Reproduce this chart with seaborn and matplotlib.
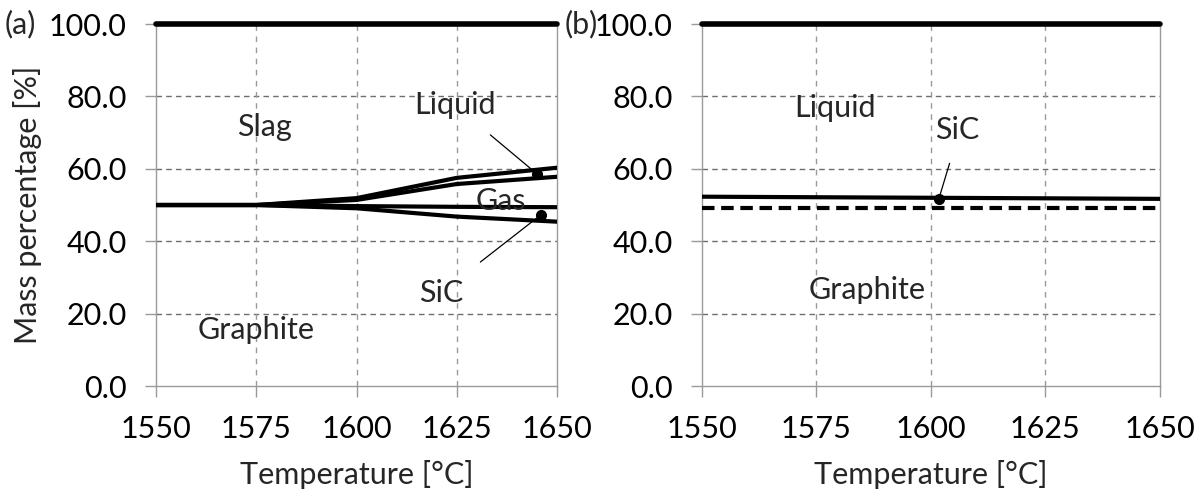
import matplotlib
matplotlib.use("Agg")
import matplotlib.pyplot as plt
import seaborn as sns
import pandas as pd
from matplotlib.ticker import FormatStrFormatter

# Phase boundaries, mass percentage [%] vs temperature [°C]
temp_a = [1550, 1575, 1600, 1625, 1650]
slag_liquid = [50.0, 50.0, 51.9, 57.5, 60.3]
liquid_gas = [50.0, 50.0, 51.4, 55.8, 57.8]
gas_sic = [50.0, 50.0, 49.7, 49.5, 49.4]
sic_graphite_a = [50.0, 50.0, 49.1, 46.8, 45.4]
top_a = [100.0, 100.0, 100.0, 100.0, 100.0]

temp_b = [1550, 1600, 1650]
liquid_sic = [52.3, 52.0, 51.7]
sic_graphite_b = [49.2, 49.2, 49.2]
top_b = [100.0, 100.0, 100.0]

x_ticks = [1550, 1575, 1600, 1625, 1650]
y_ticks = [0, 20, 40, 60, 80, 100]

sns.set_style("white")
plt.rcParams["font.family"] = ["Lato", "DejaVu Sans"]
FS = 22

fig = plt.figure(figsize=(12.03, 4.92), dpi=100)
ax_a = fig.add_axes([0.1297, 0.2154, 0.3333, 0.7358])
ax_b = fig.add_axes([0.5835, 0.2154, 0.3807, 0.7358])


def style_axes(ax):
    ax.set_xlim(1550, 1650)
    ax.set_ylim(0, 100)
    ax.set_xticks(x_ticks)
    ax.set_yticks(y_ticks)
    ax.yaxis.set_major_formatter(FormatStrFormatter("%.1f"))
    for s in ax.spines.values():
        s.set_color("#9a9a9a")
        s.set_linewidth(1.0)
    ax.tick_params(axis="both", which="major", length=8, width=1.0,
                   color="#9a9a9a", labelsize=FS, labelcolor="black",
                   direction="out", left=True, bottom=True)
    ax.tick_params(axis="x", pad=13)
    ax.tick_params(axis="y", pad=13)
    for y in y_ticks[1:-1]:
        ax.axhline(y, color="#6e6e6e", lw=1.0, ls=(0, (4, 3)), zorder=1)
    for x in x_ticks[1:-1]:
        ax.axvline(x, color="#9a9a9a", lw=1.0, ls=(0, (4, 4)), zorder=1)


def draw(ax, x, y, **kw):
    df = pd.DataFrame({"T": x, "w": y})
    sns.lineplot(data=df, x="T", y="w", ax=ax, color="black", zorder=3,
                 **kw)


# (a)
style_axes(ax_a)
draw(ax_a, temp_a, top_a, lw=4, clip_on=False)
for series in (slag_liquid, liquid_gas, gas_sic, sic_graphite_a):
    draw(ax_a, temp_a, series, lw=3)

ax_a.text(1577, 71.5, "Slag", fontsize=FS, ha="center", va="center")
ax_a.text(1636, 51.0, "Gas", fontsize=FS, ha="center", va="center")
ax_a.text(1575, 15.5, "Graphite", fontsize=FS, ha="center", va="center")
ax_a.annotate("Liquid", xy=(1645, 58.6), xytext=(1624.5, 77.6),
              fontsize=FS, ha="center", va="center",
              arrowprops=dict(arrowstyle="-", color="black", lw=0.9,
                              shrinkA=14, shrinkB=0))
ax_a.plot([1645], [58.6], "o", color="black", ms=7, zorder=4)
ax_a.annotate("SiC", xy=(1646, 47.3), xytext=(1621, 25.7),
              fontsize=FS, ha="center", va="center",
              arrowprops=dict(arrowstyle="-", color="black", lw=0.9,
                              shrinkA=16, shrinkB=0))
ax_a.plot([1646], [47.3], "o", color="black", ms=7, zorder=4)
ax_a.set_ylabel("Mass percentage [%]", fontsize=FS, labelpad=5)
ax_a.set_xlabel("Temperature [°C]", fontsize=FS, labelpad=12)

# (b)
style_axes(ax_b)
draw(ax_b, temp_b, top_b, lw=4, clip_on=False)
draw(ax_b, temp_b, liquid_sic, lw=3)
draw(ax_b, temp_b, sic_graphite_b, lw=3, ls=(0, (3, 1.6)))
ax_b.set_ylabel("")
ax_b.set_xlabel("Temperature [°C]", fontsize=FS, labelpad=12)
ax_b.text(1579, 76.8, "Liquid", fontsize=FS, ha="center", va="center")
ax_b.text(1586, 26.5, "Graphite", fontsize=FS, ha="center", va="center")
ax_b.annotate("SiC", xy=(1601.7, 51.6), xytext=(1601, 70.7),
              fontsize=FS, ha="left", va="center",
              arrowprops=dict(arrowstyle="-", color="black", lw=0.9,
                              shrinkA=12, shrinkB=0,
                              relpos=(0.45, 0.0)))
ax_b.plot([1601.7], [51.6], "o", color="black", ms=7, zorder=4)

fig.text(0.004, 0.951, "(a)", fontsize=FS, ha="left", va="center")
fig.text(0.469, 0.951, "(b)", fontsize=FS, ha="left", va="center")

fig.savefig("out.png", dpi=100)
